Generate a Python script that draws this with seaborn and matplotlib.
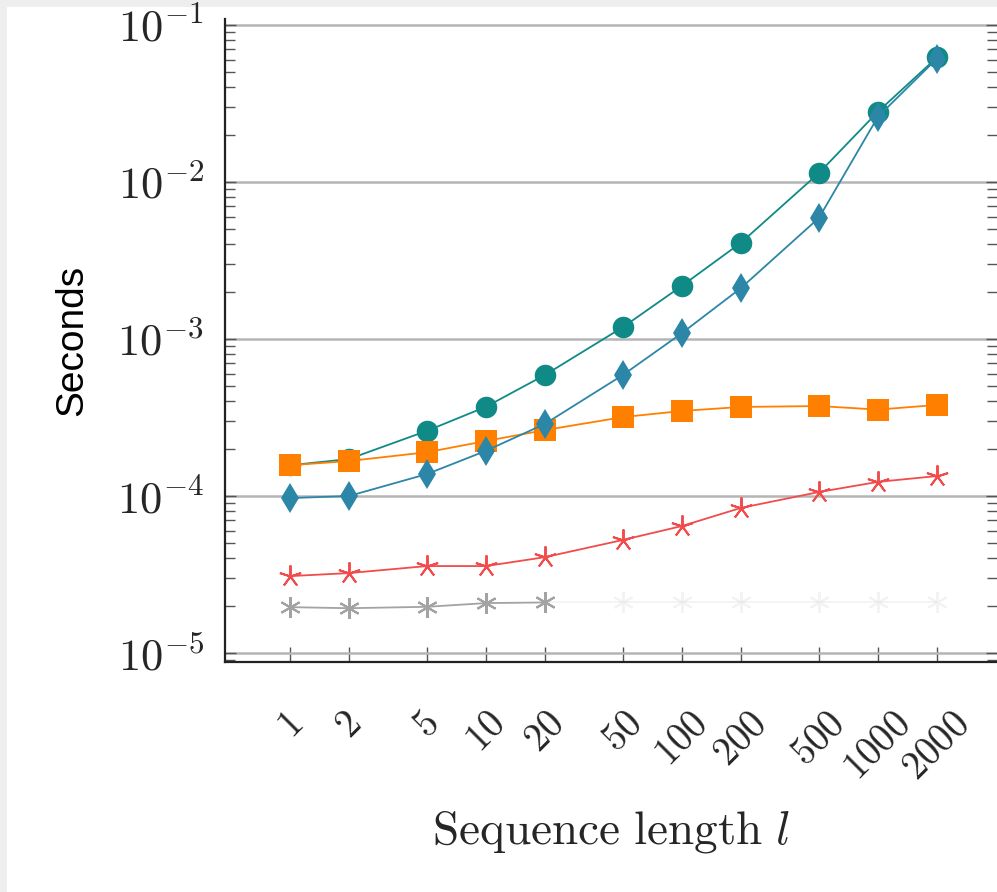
import numpy as np
import pandas as pd
import seaborn as sns
import matplotlib.pyplot as plt
from matplotlib.patches import Rectangle
from matplotlib.ticker import LogLocator, NullFormatter

############# Data #####################################
########################################################
seq_len = [1, 2, 5, 10, 20, 50, 100, 200, 500, 1000, 2000]
xtick_labels = ['1', '2', '5', '10', '20', '50', '100', '200', '500', '1000', '2000']
ytick_values = [1e-5, 1e-4, 1e-3, 1e-2, 1e-1]
ytick_labels = ['$10^{-5}$', '$10^{-4}$', '$10^{-3}$', '$10^{-2}$', '$10^{-1}$']

teal_circle = [1.57e-4, 1.72e-4, 2.6e-4, 3.7e-4, 5.9e-4, 1.19e-3, 2.18e-3, 4.1e-3, 1.14e-2, 2.8e-2, 6.2e-2]
blue_diamond = [9.7e-5, 1.0e-4, 1.38e-4, 1.94e-4, 2.88e-4, 5.9e-4, 1.09e-3, 2.11e-3, 5.9e-3, 2.6e-2, 6.1e-2]
orange_square = [1.57e-4, 1.67e-4, 1.9e-4, 2.24e-4, 2.63e-4, 3.18e-4, 3.48e-4, 3.69e-4, 3.74e-4, 3.55e-4, 3.8e-4]
red_star = [3.09e-5, 3.23e-5, 3.58e-5, 3.58e-5, 4.08e-5, 5.25e-5, 6.44e-5, 8.4e-5, 1.06e-4, 1.23e-4, 1.34e-4]
gray_star = [1.96e-5, 1.93e-5, 1.97e-5, 2.08e-5, 2.1e-5, 2.1e-5, 2.1e-5, 2.1e-5, 2.1e-5, 2.1e-5, 2.1e-5]
gray_visible = 5  # only the first points of the gray series are readable, the rest is washed out

############# Build long table #########################
########################################################
df = pd.DataFrame({
    'l': seq_len * 5,
    'sec': teal_circle + blue_diamond + orange_square + red_star + gray_star,
    'series': (['teal'] * 11 + ['blue'] * 11 + ['orange'] * 11 + ['red'] * 11 + ['gray'] * 11),
})

styles = {
    'gray':   dict(color='#a3a3a3', marker=(6, 2, 0), markersize=15, mew=1.5),
    'red':    dict(color='#f24b4b', marker=(5, 2, 0), markersize=16, mew=1.4),
    'teal':   dict(color='#0f8a86', marker='o', markersize=15.5, mew=0),
    'orange': dict(color='#ff8000', marker='s', markersize=15.5, mew=0),
    'blue':   dict(color='#2b86a8', marker='d', markersize=15, mew=0),
}

############# Plot ######################################
########################################################
sns.set_theme(style='white')
plt.rcParams['mathtext.fontset'] = 'cm'

fig = plt.figure(figsize=(9.97, 8.92), dpi=100, facecolor='#eeeeee')
fig.patches.append(Rectangle((7 / 997, 0), 1, 1 - 7 / 892, transform=fig.transFigure,
                             facecolor='white', edgecolor='none', zorder=-10))
ax = fig.add_axes([225 / 997, 1 - 662 / 892, 1 - 225 / 997, (662 - 19) / 892])
ax.set_facecolor('white')

# draw order: teal under orange, blue diamonds on top
for name in ['gray', 'red', 'teal', 'orange', 'blue']:
    st = styles[name]
    sub = df[df['series'] == name]
    if name == 'gray':
        sns.lineplot(data=sub.iloc[:gray_visible], x='l', y='sec', ax=ax, color=st['color'], lw=1.3,
                     marker=st['marker'], markersize=st['markersize'], markeredgewidth=st['mew'],
                     markeredgecolor=st['color'], zorder=3)
        sns.lineplot(data=sub.iloc[gray_visible - 1:], x='l', y='sec', ax=ax, color=st['color'], lw=1.3,
                     marker=st['marker'], markersize=st['markersize'], markeredgewidth=st['mew'],
                     markeredgecolor=st['color'], alpha=0.12, zorder=3)
    else:
        sns.lineplot(data=sub, x='l', y='sec', ax=ax, color=st['color'], lw=1.3,
                     marker=st['marker'], markersize=st['markersize'], markeredgewidth=st['mew'],
                     markeredgecolor=st['color'], markerfacecolor=st['color'], zorder=3)

ax.set_xscale('log')
ax.set_yscale('log')
ax.set_xlim(0.466, 4050)
ax.set_ylim(8.77e-6, 0.109)

# ticks
ax.set_xticks(seq_len)
ax.set_xticklabels(['$' + t + '$' for t in xtick_labels], rotation=45, fontsize=28)
ax.xaxis.set_minor_locator(plt.NullLocator())
ax.set_yticks(ytick_values)
ax.set_yticklabels(ytick_labels, fontsize=32)
ax.yaxis.set_minor_locator(LogLocator(base=10, subs=np.arange(2, 10)))
ax.yaxis.set_minor_formatter(NullFormatter())
ax.tick_params(axis='x', which='major', direction='in', length=11, width=1, color='#555555',
               pad=31, bottom=True)
ax.tick_params(axis='y', which='major', direction='in', length=8, width=1, color='#555555',
               pad=15, left=True, right=True)
ax.tick_params(axis='y', which='minor', direction='in', length=7, width=1, color='#555555',
               left=True, right=True)

# grid and spines
ax.grid(axis='y', which='major', color='#b5b5b5', lw=1.8)
ax.grid(axis='x', visible=False)
for side in ['top', 'right']:
    ax.spines[side].set_visible(False)
for side in ['left', 'bottom']:
    ax.spines[side].set_color('#222222')
    ax.spines[side].set_linewidth(1.6)

ax.set_xlabel(r'$\mathrm{Sequence\ length}\ l$', fontsize=34)
ax.xaxis.set_label_coords(0.5, -0.228)
ax.set_ylabel('Seconds', fontsize=28, family=['Liberation Sans', 'DejaVu Sans'], color='black')
ax.yaxis.set_label_coords(-0.175, 0.5)

plt.savefig('out.png', dpi=100, facecolor=fig.get_facecolor())
